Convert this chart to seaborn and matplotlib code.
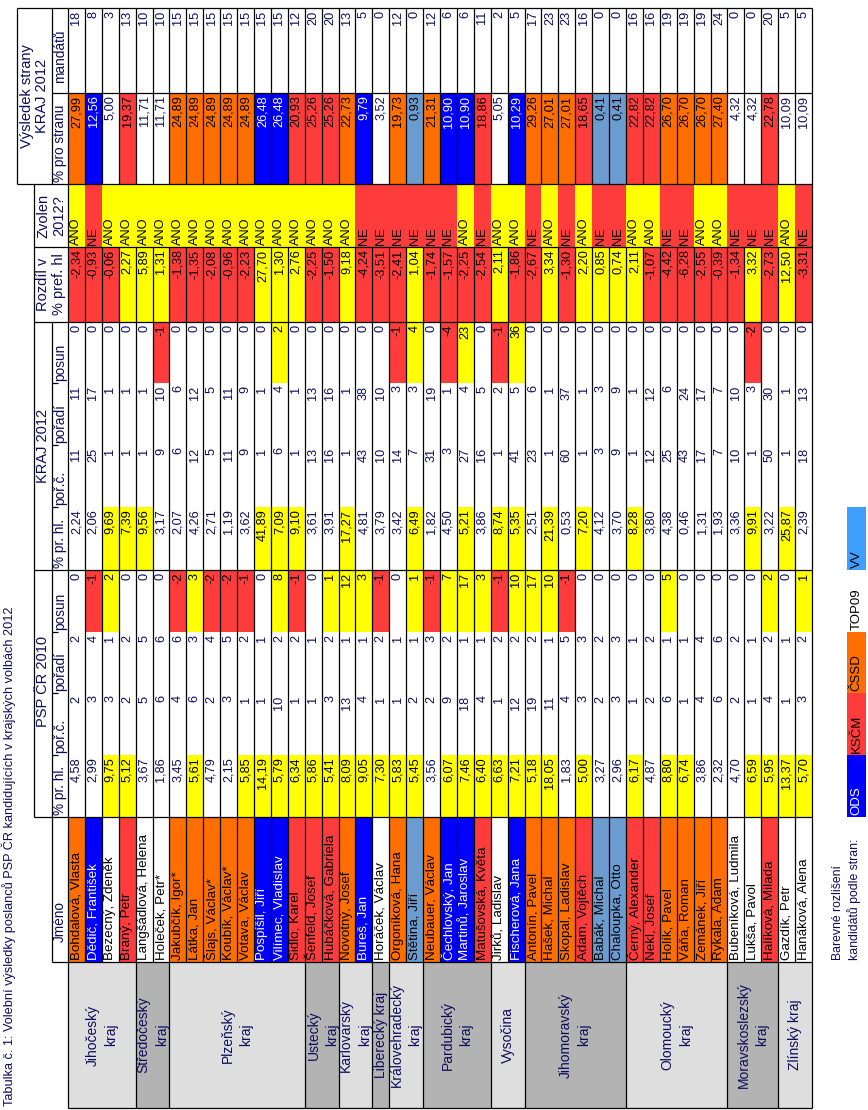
import numpy as np
import matplotlib
matplotlib.use("Agg")
import matplotlib.pyplot as plt
import seaborn as sns
from matplotlib.colors import ListedColormap

# ---- data ----
kraje = ["Jihočeský\nkraj", "Středočeský\nkraj", "Plzeňský\nkraj", "Ústecký\nkraj",
         "Karlovarský\nkraj", "Liberecký kraj", "Královehradecký\nkraj", "Pardubický\nkraj",
         "Vysočina", "Jihomoravský\nkraj", "Olomoucký\nkraj", "Moravskoslezský\nkraj",
         "Zlínský kraj"]
kraj_pocet = [4, 2, 8, 2, 2, 1, 2, 4, 2, 6, 6, 3, 2]

jmena = ["Bohdalová, Vlasta", "Dědič, František", "Bezecný, Zdeněk", "Braný, Petr",
         "Langšádlová, Helena", "Holeček, Petr*", "Jakubčík, Igor*", "Látka, Jan",
         "Šlajs, Václav*", "Koubík, Václav*", "Votava, Václav", "Pospíšil, Jiří",
         "Vilímec, Vladislav", "Šidlo, Karel", "Šenfeld, Josef", "Hubáčková, Gabriela",
         "Novotný, Josef", "Bureš, Jan", "Horáček, Václav", "Orgoníková, Hana",
         "Štětina, Jiří", "Neubauer, Václav", "Čechlovský, Jan", "Martinů, Jaroslav",
         "Matušovská, Květa", "Jirků, Ladislav", "Fischerová, Jana", "Antonín, Pavel",
         "Hašek, Michal", "Skopal, Ladislav", "Adam, Vojtěch", "Babák, Michal",
         "Chaloupka, Otto", "Černý, Alexander", "Nekl, Josef", "Holík, Pavel",
         "Váňa, Roman", "Zemánek, Jiří", "Rykala, Adam", "Bubeníková, Ludmila",
         "Lukša, Pavol", "Halíková, Milada", "Gazdík, Petr", "Hanáková, Alena"]

strana = ["ČSSD", "ODS", "TOP09", "KSČM", "TOP09", "TOP09", "ČSSD", "ČSSD", "ČSSD", "ČSSD",
          "ČSSD", "ODS", "ODS", "KSČM", "KSČM", "KSČM", "ČSSD", "ODS", "TOP09", "ČSSD",
          "VV", "ČSSD", "ODS", "ODS", "KSČM", "TOP09", "ODS", "ČSSD", "ČSSD", "ČSSD",
          "KSČM", "VV", "VV", "KSČM", "KSČM", "ČSSD", "ČSSD", "ČSSD", "ČSSD", "TOP09",
          "TOP09", "KSČM", "TOP09", "TOP09"]

psp_proc = [4.58, 2.99, 9.75, 5.12, 3.67, 1.86, 3.45, 5.61, 4.79, 2.15, 5.85, 14.19, 5.79,
            6.34, 5.86, 5.41, 8.09, 9.05, 7.30, 5.83, 5.45, 3.56, 6.07, 7.46, 6.40, 6.63,
            7.21, 5.18, 18.05, 1.83, 5.00, 3.27, 2.96, 6.17, 4.87, 8.80, 6.74, 3.86, 2.32,
            4.70, 6.59, 5.95, 13.37, 5.70]
psp_porc = [2, 3, 3, 2, 5, 6, 4, 6, 2, 3, 1, 1, 10, 1, 1, 3, 13, 4, 1, 1, 2, 2,
            9, 18, 4, 1, 12, 19, 11, 4, 3, 2, 3, 1, 2, 6, 1, 4, 6, 2, 1, 4, 1, 3]
psp_poradi = [2, 4, 1, 2, 5, 6, 6, 3, 4, 5, 2, 1, 2, 2, 1, 2, 1, 1, 2, 1, 1, 3,
              2, 1, 1, 2, 2, 2, 1, 5, 3, 2, 3, 1, 2, 1, 1, 4, 6, 2, 1, 2, 1, 2]
psp_posun = [0, -1, 2, 0, 0, 0, -2, 3, -2, -2, -1, 0, 8, -1, 0, 1, 12, 3, -1, 0, 1, -1,
             7, 17, 3, -1, 10, 17, 10, -1, 0, 0, 0, 0, 0, 5, 0, 0, 0, 0, 0, 2, 0, 1]

kraj_proc = [2.24, 2.06, 9.69, 7.39, 9.56, 3.17, 2.07, 4.26, 2.71, 1.19, 3.62, 41.89, 7.09,
             9.10, 3.61, 3.91, 17.27, 4.81, 3.79, 3.42, 6.49, 1.82, 4.50, 5.21, 3.86, 8.74,
             5.35, 2.51, 21.39, 0.53, 7.20, 4.12, 3.70, 8.28, 3.80, 4.38, 0.46, 1.31, 1.93,
             3.36, 9.91, 3.22, 25.87, 2.39]
kraj_porc = [11, 25, 1, 1, 1, 9, 6, 12, 5, 11, 9, 1, 6, 1, 13, 16, 1, 43, 10, 14, 7, 31,
             3, 27, 16, 1, 41, 23, 1, 60, 1, 3, 9, 1, 12, 25, 43, 17, 7, 10, 1, 50, 1, 18]
kraj_poradi = [11, 17, 1, 1, 1, 10, 6, 12, 5, 11, 9, 1, 4, 1, 13, 16, 1, 38, 10, 3, 3, 19,
               1, 4, 5, 2, 5, 6, 1, 37, 1, 3, 9, 1, 12, 6, 24, 17, 7, 10, 3, 30, 1, 13]
kraj_posun = [0, 0, 0, 0, 0, -1, 0, 0, 0, 0, 0, 0, 2, 0, 0, 0, 0, 0, 0, -1, 4, 0,
              -4, 23, 0, -1, 36, 0, 0, 0, 0, 0, 0, 0, 0, 0, 0, 0, 0, 0, -2, 0, 0, 0]

rozdil = [-2.34, -0.93, -0.06, 2.27, 5.89, 1.31, -1.38, -1.35, -2.08, -0.96, -2.23, 27.70,
          1.30, 2.76, -2.25, -1.50, 9.18, -4.24, -3.51, -2.41, 1.04, -1.74, -1.57, -2.25,
          -2.54, 2.11, -1.86, -2.67, 3.34, -1.30, 2.20, 0.85, 0.74, 2.11, -1.07, -4.42,
          -6.28, -2.55, -0.39, -1.34, 3.32, -2.73, 12.50, -3.31]
zvolen = ["ANO", "NE", "ANO", "ANO", "ANO", "ANO", "ANO", "ANO", "ANO", "ANO", "ANO", "ANO",
          "ANO", "ANO", "ANO", "ANO", "ANO", "NE", "NE", "NE", "NE", "NE", "NE", "ANO",
          "NE", "ANO", "ANO", "NE", "ANO", "NE", "ANO", "NE", "NE", "ANO", "ANO", "NE",
          "NE", "ANO", "ANO", "NE", "NE", "NE", "ANO", "NE"]

strana_proc = [27.99, 12.56, 5.00, 19.37, 11.71, 11.71, 24.89, 24.89, 24.89, 24.89, 24.89,
               26.48, 26.48, 20.93, 25.26, 25.26, 22.73, 9.79, 3.52, 19.73, 0.93, 21.31,
               10.90, 10.90, 18.86, 5.05, 10.29, 29.26, 27.01, 27.01, 18.65, 0.41, 0.41,
               22.82, 22.82, 26.70, 26.70, 26.70, 27.40, 4.32, 4.32, 22.78, 10.09, 10.09]
mandaty = [18, 8, 3, 13, 10, 10, 15, 15, 15, 15, 15, 15, 15, 12, 20, 20, 13, 5, 0, 12, 0, 12,
           6, 6, 11, 2, 5, 17, 23, 23, 16, 0, 0, 16, 16, 19, 19, 19, 24, 0, 0, 20, 5, 5]

legenda = ["ODS", "KSČM", "ČSSD", "TOP09", "VV"]

# ---- style ----
sns.set_theme(style="white")
plt.rcParams['font.family'] = ['Liberation Sans', 'DejaVu Sans']

pal = ["#ffffff", "#ffff00", "#ff3c3c", "#ff6e00", "#0000ff", "#6b9bcf", "#dedede", "#b3b3b3"]
kod_strany = {"ODS": 4, "KSČM": 2, "ČSSD": 3, "TOP09": 0, "VV": 5}
barva_legendy = {"ODS": "#0000ff", "KSČM": "#ff3c3c", "ČSSD": "#ff6e00", "TOP09": "#ffffff", "VV": "#3f9fff"}
NAVY = "#0c0c5c"
FS = 9.2

W, H = 868, 1110
x0, x1 = 68, 812
edges = [8, 93, 184, 247, 322, 383, 445, 507, 570, 632, 693, 755, 817, 962, 1108]
top = edges[0]
n = len(jmena)

def znamenko(v):
    return 1 if v > 0 else (2 if v < 0 else 0)

kraj_kody = []
for k, c in enumerate(kraj_pocet):
    kraj_kody += [6 if k % 2 == 0 else 7] * c

codes = np.array([
    [0] * n,
    [kod_strany[s] for s in strana],
    [1 if z == "ANO" else 2 for z in zvolen],
    [znamenko(v) for v in rozdil],
    [znamenko(v) for v in kraj_posun],
    [0] * n,
    [0] * n,
    [1 if v >= 5 else 0 for v in kraj_proc],
    [znamenko(v) for v in psp_posun],
    [0] * n,
    [0] * n,
    [1 if v >= 5 else 0 for v in psp_proc],
    [kod_strany[s] for s in strana],
    kraj_kody,
])
M = np.repeat(codes, np.diff(edges), axis=0)

fig = plt.figure(figsize=(W / 100, H / 100), dpi=100)
ax0 = fig.add_axes([0, 0, 1, 1])
ax0.set_xlim(0, W)
ax0.set_ylim(H, 0)
ax0.axis("off")

body = fig.add_axes([x0 / W, 1 - edges[-1] / H, (x1 - x0) / W, (edges[-1] - top) / H])
sns.heatmap(M, ax=body, cmap=ListedColormap(pal), vmin=-0.5, vmax=len(pal) - 0.5,
            cbar=False, xticklabels=False, yticklabels=False)

def f2(v):
    return f"{v:.2f}".replace(".", ",")

sloupce = [
    ([str(v) for v in mandaty], "r"),
    ([f2(v) for v in strana_proc], "r"),
    (zvolen, "l"),
    ([f2(v) for v in rozdil], "r"),
    ([str(v) for v in kraj_posun], "r"),
    ([str(v) for v in kraj_poradi], "r"),
    ([str(v) for v in kraj_porc], "r"),
    ([f2(v) for v in kraj_proc], "r"),
    ([str(v) for v in psp_posun], "r"),
    ([str(v) for v in psp_poradi], "r"),
    ([str(v) for v in psp_porc], "r"),
    ([f2(v) for v in psp_proc], "r"),
    (jmena, "l"),
]

for j, (vals, zar) in enumerate(sloupce):
    for i, s in enumerate(vals):
        kod = codes[j][i]
        if kod == 4:
            col = "white"
        elif kod == 0:
            col = NAVY if j != 12 else "black"
        else:
            col = "black"
        fs = 9.6 if j == 12 else FS
        if zar == "r":
            body.text(i + 0.5, edges[j] - top + 2.5, s, rotation=90, ha="center", va="top",
                      fontsize=fs, color=col)
        else:
            body.text(i + 0.5, edges[j + 1] - top - 2, s, rotation=90, ha="center", va="bottom",
                      fontsize=fs, color=col)

# region labels
start = 0
for k, c in enumerate(kraj_pocet):
    body.text(start + c / 2, (edges[-2] + edges[-1]) / 2 - top, kraje[k], rotation=90,
              ha="center", va="center", fontsize=10, color=NAVY, linespacing=1.4,
              multialignment="center")
    start += c

# body lines
lw = 0.9
hranice = np.cumsum([0] + kraj_pocet)
for i in range(n + 1):
    if i in (0, n):
        body.vlines(i, 0, edges[-1] - top, color="black", lw=lw, clip_on=False)
        continue
    body.vlines(i, edges[0] - top, edges[2] - top, color="black", lw=lw, clip_on=False)
    body.vlines(i, edges[3] - top, edges[-2] - top, color="black", lw=lw, clip_on=False)
    if i in hranice:
        body.vlines(i, edges[-2] - top, edges[-1] - top, color="black", lw=lw, clip_on=False)
for e in [8, 93, 184, 247, 322, 570, 817, 962, 1108]:
    body.hlines(e - top, 0, n, color="black", lw=lw, clip_on=False)

# header
hx = [17, 34, 52, 68]
ax0.vlines(hx[0], edges[0], edges[2], color="black", lw=lw)
ax0.vlines(hx[2], edges[0], edges[2], color="black", lw=lw)
ax0.hlines(edges[0], hx[0], x0, color="black", lw=lw)
ax0.hlines(edges[1], hx[2], x0, color="black", lw=lw)
ax0.hlines(edges[2], hx[0], x0, color="black", lw=lw)
ax0.vlines(hx[1], edges[2], edges[12], color="black", lw=lw)
for e in [edges[3], edges[4], edges[8], edges[12]]:
    ax0.hlines(e, hx[1], x0, color="black", lw=lw)
ax0.vlines(hx[2], edges[4], edges[13], color="black", lw=lw)
for e in [edges[5], edges[6], edges[7], edges[9], edges[10], edges[11]]:
    ax0.hlines(e, hx[2], hx[2] + 6, color="black", lw=lw)
ax0.hlines(edges[13], hx[2], x0, color="black", lw=lw)

ax0.text((hx[0] + hx[2]) / 2, (edges[0] + edges[2]) / 2, "Výsledek strany\nKRAJ 2012",
         rotation=90, ha="center", va="center", fontsize=10.5, color=NAVY, linespacing=1.15)
ax0.text((hx[1] + x0) / 2, (edges[2] + edges[3]) / 2, "Zvolen\n2012?",
         rotation=90, ha="center", va="center", fontsize=10.5, color=NAVY, linespacing=1.15)
ax0.text((hx[1] + x0) / 2, (edges[3] + edges[4]) / 2, "Rozdíl v\n% pref. hl",
         rotation=90, ha="center", va="center", fontsize=10.5, color=NAVY, linespacing=1.15)
ax0.text((hx[1] + hx[2]) / 2, (edges[4] + edges[8]) / 2, "KRAJ 2012",
         rotation=90, ha="center", va="center", fontsize=10.5, color=NAVY)
ax0.text((hx[1] + hx[2]) / 2, (edges[8] + edges[12]) / 2 - 12, "PSP ČR 2010",
         rotation=90, ha="center", va="center", fontsize=10.5, color=NAVY)

podhlavicky = ["mandátů", "% pro stranu", None, None, "posun", "pořadí", "poř.č.", "% pr. hl.",
               "posun", "pořadí", "poř.č.", "% pr. hl.", "Jméno"]
for j, t in enumerate(podhlavicky):
    if t is None:
        continue
    dole = edges[j + 1] - 2 if t != "mandátů" else edges[j + 1] - 10
    if t == "Jméno":
        dole = edges[j + 1] - 20
    ax0.text((hx[2] + x0) / 2, dole, t, rotation=90, ha="center", va="bottom",
             fontsize=9.8, color=NAVY)

# title
ax0.text(9, 1106, "Tabulka č. 1: Volební výsledky poslanců PSP ČR kandidujících v krajských volbách 2012",
         rotation=90, ha="center", va="bottom", fontsize=9.2, color=NAVY)

# legend
ax0.text(838, 960, "Barevné rozlišení", rotation=90, ha="center", va="bottom", fontsize=8.8, color=NAVY)
ax0.text(854, 960, "kandidátů podle stran:", rotation=90, ha="center", va="bottom", fontsize=8.8, color=NAVY)
leg_edges = [edges[12], edges[11], edges[10], edges[9], edges[8], edges[7]]
for k, p in enumerate(legenda):
    lo, hi = leg_edges[k], leg_edges[k + 1]
    ax0.bar(856.5, hi - lo, bottom=lo, width=19, color=barva_legendy[p], linewidth=0)
    ax0.text(856.5, lo - 2, p, rotation=90, ha="center", va="bottom", fontsize=9.5,
             color="white" if p == "ODS" else "black")

fig.savefig("out.png", dpi=100)
